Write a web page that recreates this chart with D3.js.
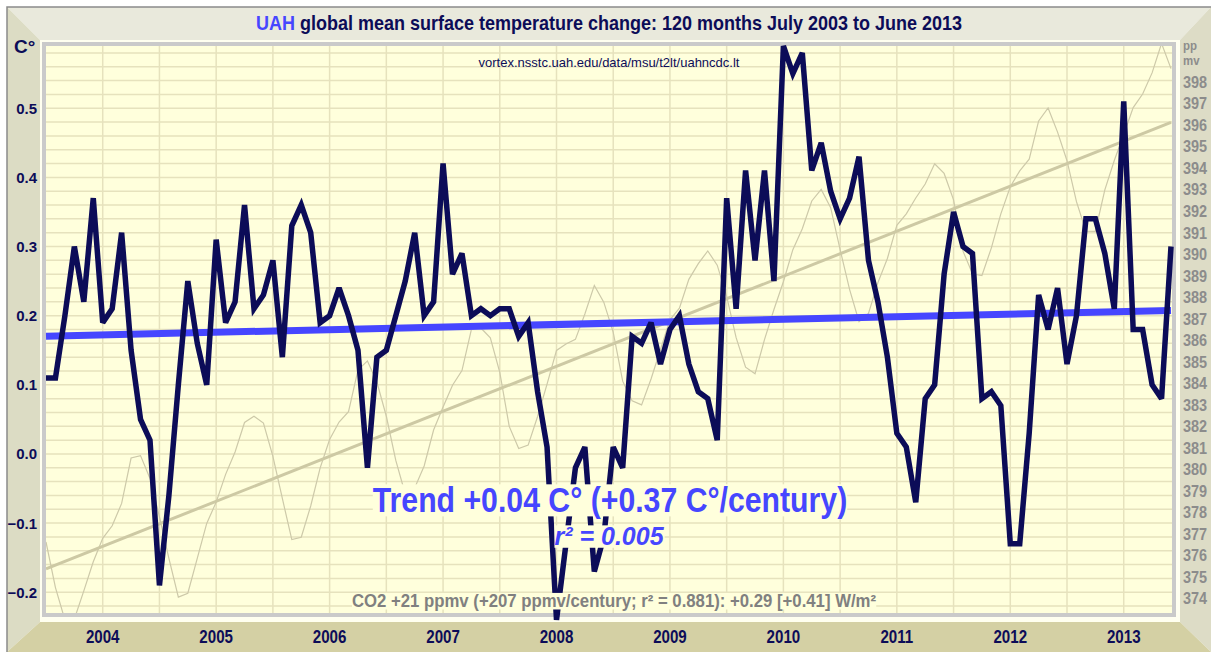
<!DOCTYPE html>
<html>
<head>
<meta charset="utf-8">
<script src="https://cdn.jsdelivr.net/npm/d3@7"></script>
<style>
  html, body { margin: 0; padding: 0; background: #fff; }
  svg { display: block; }
</style>
</head>
<body>
<svg id="chart" width="1211" height="652"></svg>
<script>
// UAH lower troposphere anomalies, monthly, July 2003 .. June 2013
var temps = [
  0.11, 0.11, 0.20, 0.30, 0.22, 0.37, 0.19, 0.21, 0.32, 0.15, 0.05, 0.02,
  -0.19, -0.06, 0.10, 0.25, 0.16, 0.10, 0.31, 0.19, 0.22, 0.36, 0.21, 0.23,
  0.28, 0.14, 0.33, 0.36, 0.32, 0.19, 0.20, 0.24, 0.20, 0.15, -0.02, 0.14,
  0.15, 0.20, 0.25, 0.32, 0.20, 0.22, 0.42, 0.26, 0.29, 0.20, 0.21, 0.20,
  0.21, 0.21, 0.17, 0.19, 0.09, 0.01, -0.24, -0.13, -0.02, 0.01, -0.17, -0.12,
  0.01, -0.02, 0.17, 0.16, 0.19, 0.13, 0.18, 0.20, 0.13, 0.09, 0.08, 0.02,
  0.37, 0.21, 0.41, 0.28, 0.41, 0.25, 0.59, 0.55, 0.58, 0.41, 0.45, 0.38,
  0.34, 0.37, 0.43, 0.28, 0.22, 0.14, 0.03, 0.01, -0.07, 0.08, 0.10, 0.26,
  0.35, 0.30, 0.29, 0.08, 0.09, 0.07, -0.13, -0.13, 0.03, 0.23, 0.18, 0.24,
  0.13, 0.20, 0.34, 0.34, 0.29, 0.21, 0.51, 0.18, 0.18, 0.10, 0.08, 0.30
];

// Mauna Loa CO2, ppmv, same months
var co2 = [
  376.62, 374.50, 373.00, 373.04, 374.35, 375.70,
  376.79, 377.37, 378.41, 380.52, 380.63, 379.57, 377.79, 375.86, 374.06, 374.24, 375.86, 377.48,
  378.47, 379.76, 380.80, 382.17, 382.46, 382.14, 380.60, 378.64, 376.73, 376.84, 378.29, 380.06,
  381.38, 382.19, 382.67, 384.61, 385.03, 384.05, 382.46, 380.41, 378.85, 379.13, 380.15, 381.82,
  382.89, 383.90, 384.58, 386.50, 386.56, 386.10, 384.50, 381.99, 380.96, 381.12, 382.45, 383.95,
  385.52, 385.82, 386.03, 387.21, 388.54, 387.76, 386.36, 384.09, 383.18, 382.99, 384.19, 385.56,
  386.94, 387.48, 388.82, 389.55, 390.14, 389.48, 388.03, 386.11, 384.74, 384.43, 386.02, 387.42,
  388.71, 390.20, 391.17, 392.46, 393.00, 392.15, 390.20, 388.35, 386.85, 387.24, 388.67, 389.79,
  391.33, 391.86, 392.60, 393.25, 394.19, 393.74, 392.51, 390.13, 389.08, 389.00, 390.28, 391.86,
  393.12, 393.86, 394.40, 396.18, 396.78, 395.66, 394.33, 392.43, 391.06, 391.05, 392.98, 394.34,
  395.55, 396.80, 397.43, 398.41, 399.78, 398.61
];

var startYear = 2003, startMonth = 7;
var years = [2004, 2005, 2006, 2007, 2008, 2009, 2010, 2011, 2012, 2013];
var tempTicks = [-0.2, -0.1, 0.0, 0.1, 0.2, 0.3, 0.4, 0.5];
var co2Ticks = [374, 375, 376, 377, 378, 379, 380, 381, 382, 383, 384, 385, 386,
                387, 388, 389, 390, 391, 392, 393, 394, 395, 396, 397, 398];

var titleLead = "UAH";
var titleRest = " global mean surface temperature change: 120 months July 2003 to June 2013";
var sourceText = "vortex.nsstc.uah.edu/data/msu/t2lt/uahncdc.lt";
var trendText = "Trend +0.04 C\u00b0 (+0.37 C\u00b0/century)";
var r2Text = "r\u00b2 = 0.005";
var co2Text = "CO2 +21 ppmv (+207 ppmv/century; r\u00b2 = 0.881): +0.29 [+0.41] W/m\u00b2";

var SANS = "'Liberation Sans', Arial, sans-serif";
var NAVY = "#0c0c58", PANEL = "#ffffdc";

var svg = d3.select("#chart");
var plot = {l: 46, t: 46, r: 1172, b: 613};

var x = d3.scaleLinear().domain([0, temps.length - 1]).range([46, 1171]);
var y = d3.scaleLinear().domain([-0.23, 0.59]).range([plot.b, plot.t]);
var yCo2 = d3.scaleLinear().domain([373.32, 399.66]).range([plot.b, plot.t]);

// no narrow face installed, so squeeze the normal one sideways about cx
var squeeze = function (cx, sx) {
  return "translate(" + cx + ",0) scale(" + sx + ",1) translate(" + (-cx) + ",0)";
};

// frame bevels
var bevels = [
  {pts: "7,7 1211,7 1180,40 40,40", fill: "#e9e9dc"},
  {pts: "7,7 40,40 40,622 7,652", fill: "#dcdcc4"},
  {pts: "1211,7 1180,40 1180,622 1211,652", fill: "#dddcc6"},
  {pts: "7,652 40,622 1180,622 1211,652", fill: "#d4d0a4"}
];
svg.selectAll("polygon.bevel").data(bevels).enter().append("polygon")
  .attr("class", "bevel")
  .attr("points", function (d) { return d.pts; })
  .style("fill", function (d) { return d.fill; });
svg.append("path").attr("d", "M7,652V7H1211")
  .style("fill", "none").style("stroke", "#8a8a8a").style("stroke-width", 1.5);

// panel
svg.append("rect").attr("x", 40).attr("y", 40).attr("width", 1140).attr("height", 582)
  .style("fill", "#fffff0");
svg.append("rect").attr("x", 44).attr("y", 44).attr("width", 1130).attr("height", 571)
  .style("fill", PANEL).style("stroke", "#cacaca").style("stroke-width", 4);

svg.append("clipPath").attr("id", "clip").append("rect")
  .attr("x", plot.l).attr("y", plot.t)
  .attr("width", plot.r - plot.l).attr("height", plot.b - plot.t);

var grid = svg.append("g").style("stroke", "#e6e2bd").style("stroke-width", 1.5);
grid.selectAll("line.h").data(d3.range(-22, 59, 2).map(function (v) { return v / 100; }))
  .enter().append("line").attr("class", "h")
  .attr("x1", plot.l).attr("x2", plot.r)
  .attr("y1", function (d) { return y(d); }).attr("y2", function (d) { return y(d); });
grid.selectAll("line.v").data(d3.range(6, temps.length, 6))
  .enter().append("line").attr("class", "v")
  .attr("y1", plot.t).attr("y2", plot.b)
  .attr("x1", function (d) { return x(d); }).attr("x2", function (d) { return x(d); });

// least squares endpoints
var fit = function (vals) {
  var mx = (vals.length - 1) / 2, my = d3.mean(vals), sxy = 0, sxx = 0;
  vals.forEach(function (v, i) { sxy += (i - mx) * (v - my); sxx += (i - mx) * (i - mx); });
  var b = sxy / sxx;
  return [[0, my - b * mx], [vals.length - 1, my + b * (vals.length - 1 - mx)]];
};

var co2Line = d3.line().x(function (d, i) { return x(i); }).y(function (d) { return yCo2(d); });
var tempLine = d3.line().x(function (d, i) { return x(i); }).y(function (d) { return y(d); });
var fitLine = function (sc) {
  return d3.line().x(function (d) { return x(d[0]); }).y(function (d) { return sc(d[1]); });
};

var clipped = svg.append("g").attr("clip-path", "url(#clip)");
clipped.append("path").datum(co2).attr("d", co2Line)
  .style("fill", "none").style("stroke", "#cdc9a9").style("stroke-width", 1.2);
clipped.append("path").datum(fit(co2)).attr("d", fitLine(yCo2))
  .style("fill", "none").style("stroke", "#cdc9a4").style("stroke-width", 3);

svg.append("path").datum(fit(temps)).attr("d", fitLine(y))
  .style("fill", "none").style("stroke", "#4646ff").style("stroke-width", 7);
svg.append("path").datum(temps).attr("d", tempLine)
  .style("fill", "none").style("stroke", NAVY).style("stroke-width", 5.5)
  .style("stroke-linejoin", "miter").style("stroke-miterlimit", 3);

// texts with panel-coloured backing
var boxedText = function (txt, cx, base, size, color, italic, sx) {
  var g = svg.append("g").attr("transform", squeeze(cx, sx));
  var t = g.append("text").attr("x", cx).attr("y", base)
    .attr("text-anchor", "middle")
    .style("font-family", SANS).style("font-weight", "bold")
    .style("font-style", italic ? "italic" : "normal")
    .style("font-size", size + "px").style("fill", color).text(txt);
  var bb = t.node().getBBox();
  g.insert("rect", "text").attr("x", bb.x).attr("y", bb.y + bb.height * 0.12)
    .attr("width", bb.width).attr("height", bb.height * 0.8).style("fill", PANEL);
  return t;
};
boxedText(trendText, 610, 512, 36, "#4646ff", false, 0.84);
boxedText(r2Text, 609, 545, 25, "#4646ff", true, 1);
boxedText(co2Text, 614, 607, 18, "#808080", false, 0.93);

svg.append("text").attr("x", 609).attr("y", 67).attr("text-anchor", "middle")
  .style("font-family", SANS).style("font-size", "13px").style("fill", NAVY)
  .text(sourceText);

var title = svg.append("text").attr("x", 609).attr("y", 30).attr("text-anchor", "middle")
  .attr("transform", squeeze(609, 0.9))
  .style("font-family", SANS).style("font-weight", "bold").style("font-size", "20px")
  .style("fill", NAVY);
title.append("tspan").style("fill", "#4646ff").text(titleLead);
title.append("tspan").text(titleRest);

// left axis
svg.append("text").attr("x", 14).attr("y", 53)
  .style("font-family", SANS).style("font-weight", "bold").style("font-size", "19px")
  .style("fill", NAVY).text("C\u00b0");
svg.selectAll("text.yl").data(tempTicks).enter().append("text").attr("class", "yl")
  .attr("x", 37).attr("y", function (d) { return y(d); }).attr("dy", "0.36em")
  .attr("text-anchor", "end")
  .style("font-family", SANS).style("font-weight", "bold").style("font-size", "15px")
  .style("fill", NAVY).text(d3.format(".1f"));

// right axis, unit split over two short lines
var unitLines = [["pp", 50], ["mv", 65]];
svg.selectAll("text.unit").data(unitLines).enter().append("text").attr("class", "unit")
  .attr("x", 1183).attr("y", function (d) { return d[1]; })
  .attr("transform", squeeze(1183, 0.88))
  .style("font-family", SANS).style("font-weight", "bold")
  .style("font-size", "13px").style("fill", "#8c8c8c")
  .text(function (d) { return d[0]; });
svg.selectAll("text.yr").data(co2Ticks).enter().append("text").attr("class", "yr")
  .attr("x", 1183).attr("y", function (d) { return yCo2(d); }).attr("dy", "0.36em")
  .attr("transform", squeeze(1183, 0.85))
  .style("font-family", SANS).style("font-weight", "bold").style("font-size", "17px")
  .style("fill", "#8c8c8c").text(function (d) { return d; });

// years, at January of each
svg.selectAll("text.yx").data(years).enter().append("text").attr("class", "yx")
  .attr("x", function (d) { return x((d - startYear) * 12 + 1 - startMonth); })
  .attr("y", 643).attr("text-anchor", "middle")
  .attr("transform", function (d) {
    return squeeze(x((d - startYear) * 12 + 1 - startMonth), 0.84);
  })
  .style("font-family", SANS).style("font-weight", "bold").style("font-size", "18px")
  .style("fill", NAVY).text(function (d) { return d; });
</script>
</body>
</html>
